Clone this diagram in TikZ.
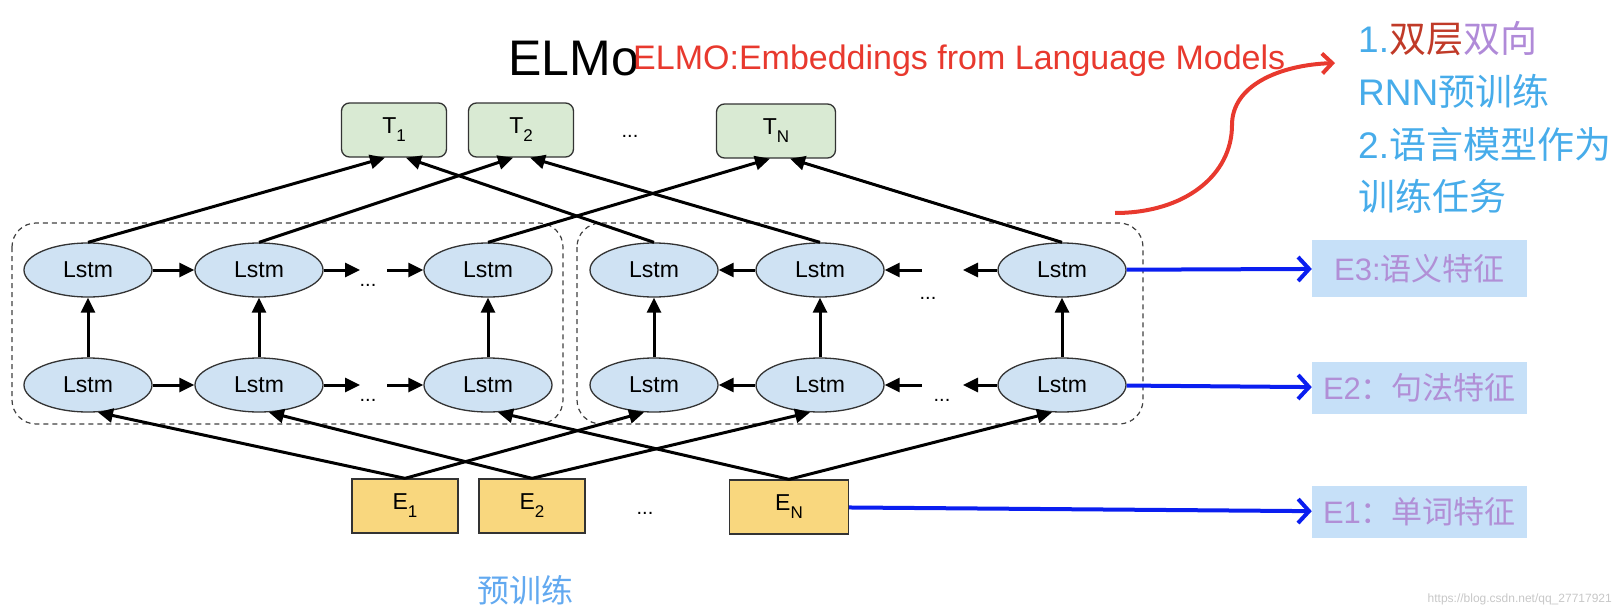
\documentclass[tikz,border=0pt]{standalone}
\usepackage{fontspec}
\setmainfont{Liberation Sans}
\newfontfamily\cjk{Noto Sans CJK SC}
\usetikzlibrary{arrows.meta,shapes.geometric}

\definecolor{tgreen}{HTML}{D9EAD3}
\definecolor{lblue}{HTML}{CFE2F3}
\definecolor{eyellow}{HTML}{F9D77E}
\definecolor{fblue}{HTML}{C6E0F8}
\definecolor{fpurple}{HTML}{B18FD6}
\definecolor{nblue}{HTML}{47ACEA}
\definecolor{nred}{HTML}{C03A28}
\definecolor{npurple}{HTML}{B08AD8}
\definecolor{pblue}{HTML}{62A9F0}
\definecolor{elmored}{HTML}{E8392E}
\definecolor{outblue}{HTML}{0A1EF0}

% low subscript as in the slide
\newcommand{\lowsub}[1]{\raisebox{-8pt}{\fontsize{17}{17}\selectfont #1}}

\tikzset{
  txt/.style={inner sep=0pt},
  lstm/.style={ellipse, draw=black!80, line width=1.3pt, fill=lblue, minimum width=128pt, minimum height=54pt, inner sep=0pt, font=\fontsize{23}{23}\selectfont},
  tbox/.style={rectangle, rounded corners=8pt, draw=black!80, line width=1.3pt, fill=tgreen, minimum width=105pt, minimum height=54pt, font=\fontsize{23}{23}\selectfont},
  ebox/.style={rectangle, draw=black!80, line width=1.3pt, fill=eyellow, minimum width=106pt, minimum height=54pt, font=\fontsize{23}{23}\selectfont},
  feat/.style={rectangle, fill=fblue, minimum width=215pt, minimum height=52pt, text=fpurple, font=\fontsize{31}{31}\selectfont},
  dots/.style={inner sep=0pt, font=\fontsize{20}{20}\selectfont},
  link/.style={line width=3pt, -{Triangle[length=15pt,width=14pt]}},
  group/.style={draw=black!75, dash pattern=on 5pt off 4pt, line width=1.2pt, rounded corners=24pt},
  featarrow/.style={outblue, line width=4pt, -{Straight Barb[length=11pt,width=24pt]}}
}

\begin{document}
\begin{tikzpicture}[x=1pt,y=-1pt]
\useasboundingbox (0,0) rectangle (1620,610);

% titles
\node[txt, anchor=base west, font=\fontsize{50}{50}\selectfont] (title) at (508,75) {ELMo};
\node[txt, anchor=base west, text=elmored, font=\fontsize{34}{34}\selectfont] (full) at (633,70) {ELMO:Embeddings from Language Models};

% forward and backward groups
\draw[group] (12,223) rectangle (563,424);
\draw[group] (577,223) rectangle (1143,424);

% outputs
\node[tbox] (T1) at (394,130) {T\lowsub{1}};
\node[tbox] (T2) at (521,130) {T\lowsub{2}};
\node[tbox, minimum width=119pt] (TN) at (776,131) {T\lowsub{N}};
\node[dots] (tdots) at (630,136) {...};

% forward lstm
\node[lstm] (fu1) at (88,270) {Lstm};
\node[lstm] (fu2) at (259,270) {Lstm};
\node[lstm] (fu3) at (488,270) {Lstm};
\node[lstm] (fl1) at (88,385) {Lstm};
\node[lstm] (fl2) at (259,385) {Lstm};
\node[lstm] (fl3) at (488,385) {Lstm};
\node[dots] (fudots) at (368,285) {...};
\node[dots] (fldots) at (368,400) {...};
\coordinate (fua) at (360,270);
\coordinate (fub) at (387,270);
\coordinate (fla) at (360,385);
\coordinate (flb) at (387,385);

% backward lstm
\node[lstm] (bu1) at (654,270) {Lstm};
\node[lstm] (bu2) at (820,270) {Lstm};
\node[lstm] (bu3) at (1062,270) {Lstm};
\node[lstm] (bl1) at (654,385) {Lstm};
\node[lstm] (bl2) at (820,385) {Lstm};
\node[lstm] (bl3) at (1062,385) {Lstm};
\node[dots] (budots) at (928,298) {...};
\node[dots] (bldots) at (942,400) {...};
\coordinate (bua) at (922,270);
\coordinate (bub) at (963,270);
\coordinate (bla) at (922,385);
\coordinate (blb) at (963,385);

% inputs
\node[ebox] (E1) at (405,506) {E\lowsub{1}};
\node[ebox] (E2) at (532,506) {E\lowsub{2}};
\node[ebox, minimum width=119pt] (EN) at (789,507) {E\lowsub{N}};
\node[dots] (edots) at (645,513) {...};

% chains
\draw[link] (fu1) -- (fu2);
\draw[link] (fu2) -- (fua);
\draw[link] (fub) -- (fu3);
\draw[link] (fl1) -- (fl2);
\draw[link] (fl2) -- (fla);
\draw[link] (flb) -- (fl3);
\draw[link] (bu2) -- (bu1);
\draw[link] (bua) -- (bu2);
\draw[link] (bu3) -- (bub);
\draw[link] (bl2) -- (bl1);
\draw[link] (bla) -- (bl2);
\draw[link] (bl3) -- (blb);

% layer to layer
\draw[link] (fl1) -- (fu1);
\draw[link] (fl2) -- (fu2);
\draw[link] (fl3) -- (fu3);
\draw[link] (bl1) -- (bu1);
\draw[link] (bl2) -- (bu2);
\draw[link] (bl3) -- (bu3);

% top to outputs
\draw[link] (fu1.north) -- ([xshift=-9pt]T1.south);
\draw[link] (bu1.north) -- ([xshift=12pt]T1.south);
\draw[link] (fu2.north) -- ([xshift=-8pt]T2.south);
\draw[link] (bu2.north) -- ([xshift=9pt]T2.south);
\draw[link] (fu3.north) -- ([xshift=-6pt]TN.south);
\draw[link] (bu3.north) -- ([xshift=14pt]TN.south);

% inputs to bottom layer
\draw[link] (E1.north) -- (fl1.-70);
\draw[link] (E1.north) -- (bl1.-110);
\draw[link] (E2.north) -- (fl2.-70);
\draw[link] (E2.north) -- (bl2.-110);
\draw[link] (EN.north) -- (fl3.-70);
\draw[link] (EN.north) -- (bl3.-110);

% features
\node[feat, minimum height=57pt] (f3) at (1419.5,268.5) {E3:{\cjk 语义特征}};
\node[feat] (f2) at (1419.5,388) {E2{\cjk ：句法特征}};
\node[feat] (f1) at (1419.5,512) {E1{\cjk ：单词特征}};
\draw[featarrow] (bu3) -- (f3);
\draw[featarrow] (bl3) -- (f2);
\draw[featarrow] (EN) -- (f1);

% note
\coordinate (cstart) at (1115,213);
\coordinate (cend) at (1335,63);
\draw[elmored, line width=4pt, -{Straight Barb[length=10pt,width=20pt]}] (cstart) .. controls (1185,213) and (1232,175) .. (1232,125) .. controls (1232,85) and (1280,65) .. (cend);
\node[txt, anchor=base west, text=nblue, font=\fontsize{37}{37}\selectfont] (line1) at (1358,53) {1.{\cjk\color{nred}双层\color{npurple}双向}};
\node[txt, anchor=base west, text=nblue, font=\fontsize{37}{37}\selectfont] (line2) at (1358,105) {RNN{\cjk 预训练}};
\node[txt, anchor=base west, text=nblue, font=\fontsize{37}{37}\selectfont] (line3) at (1358,158) {2.{\cjk 语言模型作为}};
\node[txt, anchor=base west, text=nblue, font=\fontsize{37}{37}\selectfont] (line4) at (1358,210) {\cjk 训练任务};

\node[txt, anchor=base west, text=pblue, font=\fontsize{32}{32}\selectfont] (pre) at (477,602) {\cjk 预训练};
\node[txt, anchor=base east, text=black!22, font=\fontsize{12}{12}\selectfont] (mark) at (1612,602) {https://blog.csdn.net/qq\_27717921};
\end{tikzpicture}
\end{document}
